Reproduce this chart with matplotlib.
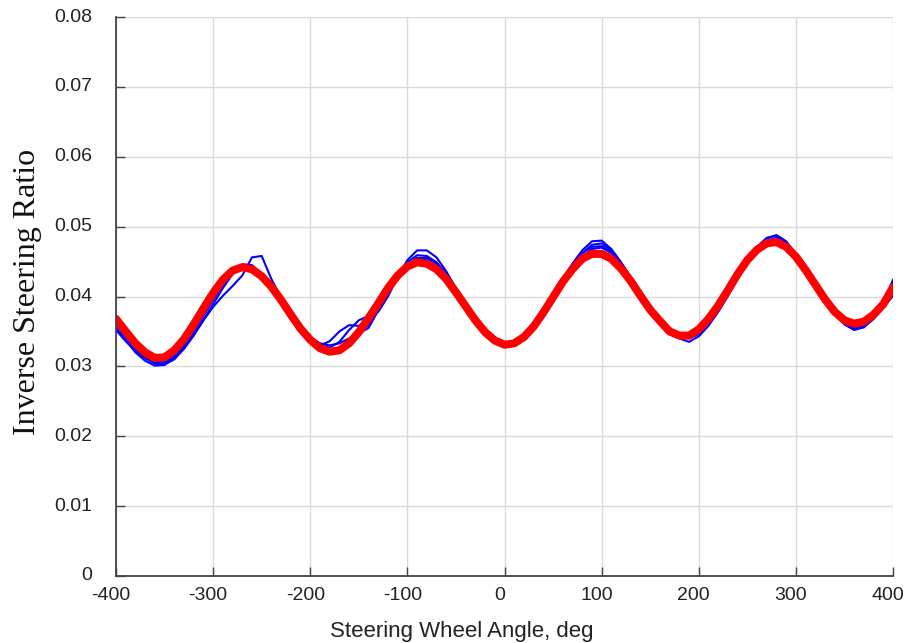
import matplotlib
matplotlib.use("Agg")
import matplotlib.pyplot as plt
import matplotlib.transforms as mtransforms

angle = [-400, -390, -380, -370, -360, -350, -340, -330, -320, -310,
         -300, -290, -280, -270, -260, -250, -240, -230, -220, -210,
         -200, -190, -180, -170, -160, -150, -140, -130, -120, -110,
         -100, -90, -80, -70, -60, -50, -40, -30, -20, -10,
         0, 10, 20, 30, 40, 50, 60, 70, 80, 90,
         100, 110, 120, 130, 140, 150, 160, 170, 180, 190,
         200, 210, 220, 230, 240, 250, 260, 270, 280, 290,
         300, 310, 320, 330, 340, 350, 360, 370, 380, 390, 400]

fit_red = [0.0368, 0.0350, 0.0333, 0.0320, 0.0312, 0.0313, 0.0323, 0.0339, 0.0360, 0.0383,
           0.0405, 0.0424, 0.0437, 0.0442, 0.0439, 0.0429, 0.0414, 0.0395, 0.0374, 0.0354,
           0.0338, 0.0326, 0.0321, 0.0323, 0.0333, 0.0349, 0.0369, 0.0390, 0.0412, 0.0430,
           0.0443, 0.0449, 0.0447, 0.0439, 0.0425, 0.0406, 0.0386, 0.0366, 0.0349, 0.0337,
           0.0331, 0.0333, 0.0342, 0.0357, 0.0377, 0.0399, 0.0421, 0.0439, 0.0454, 0.0461,
           0.0461, 0.0454, 0.0440, 0.0422, 0.0401, 0.0381, 0.0365, 0.0350, 0.0344, 0.0344,
           0.0353, 0.0368, 0.0387, 0.0409, 0.0432, 0.0452, 0.0467, 0.0476, 0.0478, 0.0471,
           0.0457, 0.0438, 0.0417, 0.0396, 0.0378, 0.0366, 0.0361, 0.0364, 0.0374, 0.0389, 0.0413]

run_1 = [0.0355, 0.0338, 0.0320, 0.0308, 0.0301, 0.0302, 0.0312, 0.0328, 0.0346, 0.0366,
         0.0385, 0.0401, 0.0415, 0.0430, 0.0456, 0.0458, 0.0425, 0.0398, 0.0376, 0.0357,
         0.0342, 0.0333, 0.0330, 0.0333, 0.0340, 0.0347, 0.0355, 0.0380, 0.0405, 0.0428,
         0.0446, 0.0455, 0.0452, 0.0440, 0.0424, 0.0404, 0.0383, 0.0363, 0.0346, 0.0335,
         0.0331, 0.0332, 0.0338, 0.0352, 0.0371, 0.0394, 0.0418, 0.0439, 0.0457, 0.0468,
         0.0470, 0.0462, 0.0446, 0.0426, 0.0403, 0.0382, 0.0364, 0.0351, 0.0344, 0.0340,
         0.0346, 0.0360, 0.0379, 0.0401, 0.0425, 0.0448, 0.0466, 0.0480, 0.0484, 0.0475,
         0.0459, 0.0438, 0.0416, 0.0394, 0.0375, 0.0361, 0.0354, 0.0356, 0.0368, 0.0390, 0.0424]

run_2 = [0.0360, 0.0342, 0.0325, 0.0312, 0.0304, 0.0303, 0.0310, 0.0325, 0.0344, 0.0366,
         0.0389, 0.0412, 0.0432, 0.0446, 0.0445, 0.0432, 0.0413, 0.0391, 0.0370, 0.0352,
         0.0338, 0.0330, 0.0327, 0.0335, 0.0352, 0.0366, 0.0372, 0.0378, 0.0400, 0.0428,
         0.0452, 0.0466, 0.0466, 0.0456, 0.0436, 0.0412, 0.0388, 0.0365, 0.0347, 0.0336,
         0.0333, 0.0334, 0.0341, 0.0355, 0.0376, 0.0400, 0.0425, 0.0447, 0.0466, 0.0479,
         0.0480, 0.0468, 0.0449, 0.0427, 0.0404, 0.0383, 0.0365, 0.0352, 0.0345, 0.0342,
         0.0348, 0.0362, 0.0382, 0.0405, 0.0430, 0.0453, 0.0471, 0.0484, 0.0487, 0.0478,
         0.0460, 0.0439, 0.0417, 0.0395, 0.0376, 0.0362, 0.0356, 0.0359, 0.0370, 0.0386, 0.0405]

run_3 = [0.0352, 0.0336, 0.0322, 0.0312, 0.0306, 0.0306, 0.0314, 0.0330, 0.0350, 0.0372,
         0.0395, 0.0416, 0.0434, 0.0444, 0.0443, 0.0431, 0.0412, 0.0390, 0.0368, 0.0350,
         0.0337, 0.0330, 0.0336, 0.0350, 0.0359, 0.0358, 0.0362, 0.0384, 0.0408, 0.0432,
         0.0449, 0.0459, 0.0458, 0.0449, 0.0432, 0.0411, 0.0388, 0.0367, 0.0349, 0.0336,
         0.0332, 0.0334, 0.0341, 0.0354, 0.0373, 0.0396, 0.0421, 0.0443, 0.0462, 0.0474,
         0.0476, 0.0466, 0.0448, 0.0427, 0.0405, 0.0385, 0.0368, 0.0353, 0.0340, 0.0335,
         0.0343, 0.0358, 0.0378, 0.0401, 0.0427, 0.0451, 0.0469, 0.0483, 0.0488, 0.0479,
         0.0461, 0.0440, 0.0418, 0.0396, 0.0376, 0.0360, 0.0352, 0.0356, 0.0370, 0.0392, 0.0420]

run_4 = [0.0362, 0.0345, 0.0329, 0.0316, 0.0309, 0.0309, 0.0317, 0.0332, 0.0352, 0.0375,
         0.0398, 0.0418, 0.0434, 0.0443, 0.0442, 0.0431, 0.0415, 0.0395, 0.0373, 0.0353,
         0.0338, 0.0328, 0.0324, 0.0326, 0.0333, 0.0344, 0.0360, 0.0382, 0.0406, 0.0428,
         0.0445, 0.0455, 0.0455, 0.0447, 0.0432, 0.0412, 0.0390, 0.0369, 0.0351, 0.0338,
         0.0333, 0.0335, 0.0344, 0.0359, 0.0379, 0.0402, 0.0426, 0.0446, 0.0462, 0.0471,
         0.0472, 0.0464, 0.0448, 0.0428, 0.0406, 0.0385, 0.0367, 0.0354, 0.0347, 0.0346,
         0.0352, 0.0365, 0.0383, 0.0405, 0.0429, 0.0451, 0.0468, 0.0479, 0.0482, 0.0474,
         0.0459, 0.0439, 0.0417, 0.0396, 0.0377, 0.0363, 0.0356, 0.0358, 0.0368, 0.0384, 0.0401]

blue_runs = [run_1, run_2, run_3, run_4]

x_ticks = [-400, -300, -200, -100, 0, 100, 200, 300, 400]
y_ticks = [0, 0.01, 0.02, 0.03, 0.04, 0.05, 0.06, 0.07, 0.08]
y_tick_labels = ["0", "0.01", "0.02", "0.03", "0.04", "0.05", "0.06", "0.07", "0.08"]

fig = plt.figure(figsize=(9.07, 6.43), dpi=100)
ax = fig.add_axes([116 / 907, 1 - 576 / 643, (893 - 116) / 907, (576 - 17) / 643])

for run in blue_runs:
    ax.plot(angle, run, color="#0000ff", lw=1.5, solid_joinstyle="round")
ax.plot(angle, fit_red, color="#ff0000", lw=5.8, solid_capstyle="round", solid_joinstyle="round")

ax.set_xlim(-400, 400)
ax.set_ylim(0, 0.08)
ax.set_xticks(x_ticks)
ax.set_xticklabels([str(v) for v in x_ticks])
ax.set_yticks(y_ticks)
ax.set_yticklabels(y_tick_labels)

ax.grid(True, color="#d9d9d9", lw=1.0)
ax.set_axisbelow(True)
for s in ["top", "right"]:
    ax.spines[s].set_visible(False)
for s in ["left", "bottom"]:
    ax.spines[s].set_color("#444444")
    ax.spines[s].set_linewidth(1.3)

ax.tick_params(direction="in", length=6.5, width=1.0, color="#444444",
               labelsize=14, labelcolor="#222222")
ax.tick_params(axis="x", pad=8)
ax.tick_params(axis="y", pad=17)
shift_x = mtransforms.ScaledTranslation(-5 / 100, 0, fig.dpi_scale_trans)
shift_y = mtransforms.ScaledTranslation(0, 2 / 100, fig.dpi_scale_trans)
for lab in ax.get_xticklabels():
    lab.set_family("Liberation Sans")
    lab.set_transform(lab.get_transform() + shift_x)
for lab in ax.get_yticklabels():
    lab.set_family("Liberation Sans")
    lab.set_transform(lab.get_transform() + shift_y)

fig.text(462 / 907, 1 - 631 / 643, "Steering Wheel Angle, deg", family="Liberation Sans",
         fontsize=16, ha="center", va="center", color="#222222")
fig.text(28 / 907, 1 - 292 / 643, "Inverse Steering Ratio", family="Liberation Serif",
         fontsize=23, rotation=90, ha="center", va="center", color="#111111")

fig.savefig("out.png", dpi=100)
